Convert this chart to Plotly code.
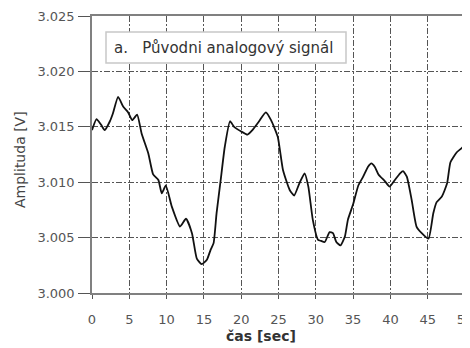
import plotly.graph_objects as go

time_s = [0, 0.6, 1.2, 1.7, 2.4, 2.8, 3.5, 4.2, 4.85, 5.4, 6.05, 6.65, 7.55, 8.2, 8.9,
          9.35, 9.9, 10.7, 11.8, 12.6, 13.4, 14.05, 14.7, 15.4, 15.9, 16.3, 16.7, 17.25,
          17.8, 18.5, 19.05, 19.95, 20.85, 21.5, 22.4, 23.3, 24.0, 24.9, 25.6, 26.5, 27.1,
          27.8, 28.5, 29.0, 29.6, 30.3, 30.7, 31.2, 31.85, 32.3, 32.75, 33.3, 33.9, 34.3,
          35.0, 35.7, 36.35, 37.0, 37.45, 37.9, 38.4, 39.25, 39.9, 40.6, 41.3, 41.7, 42.2,
          42.85, 43.5, 44.2, 45.1, 45.75, 46.2, 46.9, 47.6, 48.05, 48.9, 49.6, 50.0]
amplitude = [3.0147, 3.0157, 3.0152, 3.0147, 3.0155, 3.0162, 3.0177, 3.0168, 3.0163, 3.0156,
             3.0161, 3.0144, 3.0126, 3.0107, 3.0102, 3.0090, 3.0097, 3.0078, 3.0060, 3.0067,
             3.0054, 3.0031, 3.0026, 3.0030, 3.0039, 3.0045, 3.0072, 3.0102, 3.0132, 3.0155,
             3.0150, 3.0146, 3.0143, 3.0147, 3.0155, 3.0163, 3.0156, 3.0141, 3.0111, 3.0093,
             3.0088, 3.0099, 3.0108, 3.0096, 3.0066, 3.0048, 3.0047, 3.0046, 3.0055, 3.0054,
             3.0046, 3.0043, 3.0051, 3.0066, 3.0080, 3.0097, 3.0105, 3.0114, 3.0117, 3.0114,
             3.0107, 3.0101, 3.0096, 3.0102, 3.0108, 3.0110, 3.0105, 3.0084, 3.0060, 3.0054,
             3.0049, 3.0072, 3.0082, 3.0087, 3.0099, 3.0118, 3.0127, 3.0131, 3.0134]

x_ticks = [0, 5, 10, 15, 20, 25, 30, 35, 40, 45, 50]
y_ticks = [3.000, 3.005, 3.010, 3.015, 3.020, 3.025]
y_tick_labels = ["3.000", "3.005", "3.010", "3.015", "3.020", "3.025"]
legend_label = "a.&nbsp;&nbsp;&nbsp;Původni analogový signál"
x_title = "čas [sec]"
y_title = "Amplituda [V]"

FONT = "DejaVu Sans"
grid_dash = "6px,2px,2px,2px"

# page body has an 8px default margin; work in screen coords then offset
OFF = 8
L, R, T, B = 92, 465, 16, 293          # plot area in screen pixels
W, H = 470 - OFF, 348 - OFF
pw, ph = R - L, B - T

fig = go.Figure()
fig.add_trace(go.Scatter(x=time_s, y=amplitude, mode="lines",
                         line=dict(color="#111111", width=1.8, shape="spline", smoothing=0.5),
                         showlegend=False, hoverinfo="skip"))

fig.update_layout(
    width=W, height=H,
    margin=dict(l=L - OFF, r=W - (R - OFF), t=T - OFF, b=H - (B - OFF), pad=0),
    paper_bgcolor="white", plot_bgcolor="white",
    font=dict(family=FONT, size=12, color="#444444"),
)
fig.update_xaxes(
    range=[0, 50], tickvals=x_ticks, ticktext=[str(v) for v in x_ticks],
    showgrid=True, gridcolor="#555555", gridwidth=1, griddash=grid_dash,
    showline=True, linecolor="#808080", linewidth=1.5, mirror=True,
    ticks="outside", ticklen=4, tickcolor="#555555", ticklabelstandoff=10,
    ticklabeloverflow="allow",
    zeroline=False, automargin=False,
    tickfont=dict(family=FONT, size=13, color="#555555"),
)
fig.update_yaxes(
    range=[3.000, 3.025], tickvals=y_ticks, ticktext=y_tick_labels,
    showgrid=True, gridcolor="#555555", gridwidth=1, griddash=grid_dash,
    showline=True, linecolor="#808080", linewidth=1.5, mirror=True,
    ticks="outside", ticklen=12, tickcolor="#555555", ticklabelstandoff=1,
    ticklabeloverflow="allow",
    zeroline=False, automargin=False,
    tickfont=dict(family=FONT, size=13, color="#555555"),
)

# axis titles
fig.add_annotation(text="<b>" + x_title + "</b>", xref="paper", yref="paper",
                   x=(261 - L) / pw, y=(B - 336) / ph, xanchor="center", yanchor="middle",
                   showarrow=False, font=dict(family=FONT, size=14, color="#333333"))
fig.add_annotation(text=y_title, xref="paper", yref="paper", textangle=-90,
                   x=(20 - L) / pw, y=(B - 160) / ph, xanchor="center", yanchor="middle",
                   showarrow=False, font=dict(family=FONT, size=14, color="#444444"))

# legend-like label box
fig.add_shape(type="rect", xref="paper", yref="paper",
              x0=(106 - L) / pw, x1=(346 - L) / pw,
              y0=(B - 63) / ph, y1=(B - 32) / ph,
              line=dict(color="#c8c8c8", width=1.5), fillcolor="white", layer="above")
fig.add_annotation(text=legend_label, xref="paper", yref="paper",
                   x=(112 - L) / pw, y=(B - 48) / ph, xanchor="left", yanchor="middle",
                   showarrow=False, font=dict(family=FONT, size=15, color="#333333"))

fig.write_html("out.html")
